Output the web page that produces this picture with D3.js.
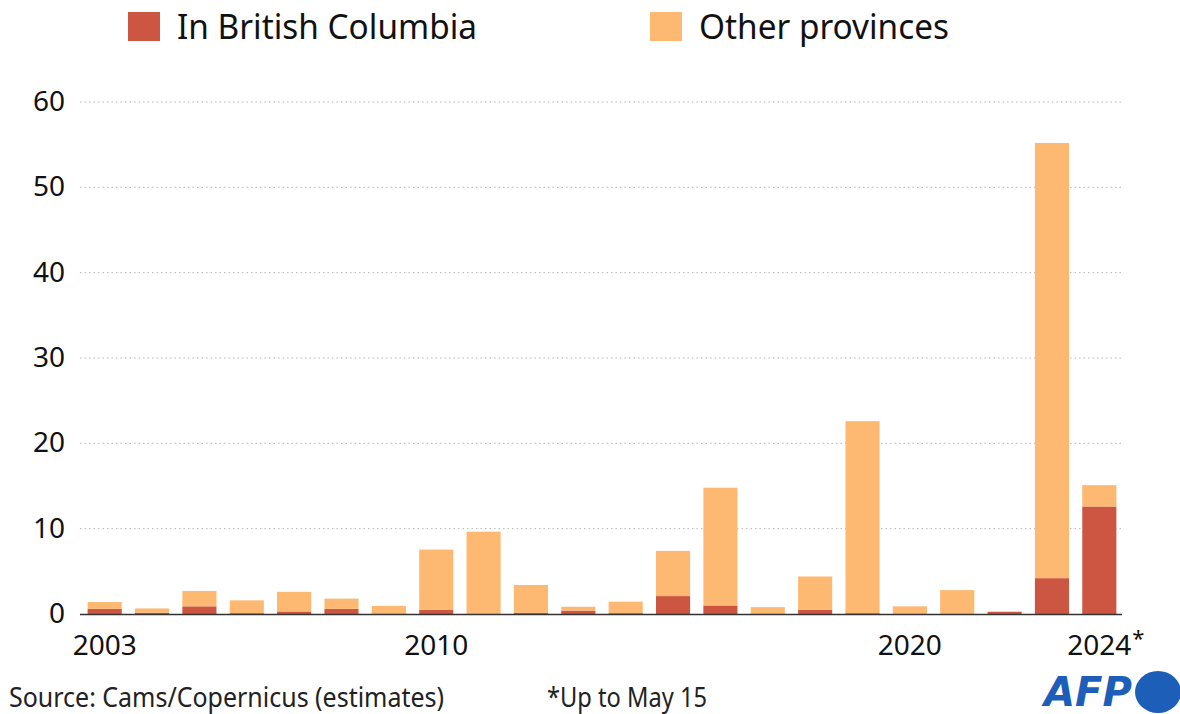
<!DOCTYPE html>
<html>
<head>
<meta charset="utf-8">
<script src="https://cdn.jsdelivr.net/npm/d3@7"></script>
<style>
  body { margin: 0; background: #fff; }
  svg { font-family: "Noto Sans", "Open Sans", sans-serif; }
</style>
</head>
<body>
<div id="chart"></div>
<script>
const years = d3.range(2003, 2025);
// emissions in British Columbia
const bcValues = [0.6, 0.15, 0.9, 0.1, 0.3, 0.6, 0.05, 0.5, 0, 0.15, 0.4, 0.1,
                  2.1, 1.0, 0.05, 0.5, 0.1, 0, 0, 0.25, 4.2, 12.6];
// other provinces
const otherValues = [0.8, 0.5, 1.8, 1.5, 2.3, 1.2, 0.9, 7.05, 9.65, 3.25, 0.45, 1.35,
                     5.3, 13.8, 0.75, 3.9, 22.5, 0.9, 2.8, 0.05, 51.0, 2.5];
const yTicks = [0, 10, 20, 30, 40, 50, 60];
const xLabelYears = [2003, 2010, 2020, 2024];

const W = 1180, H = 714;
const red = "#cc5641", orange = "#fdb971";

const svg = d3.select("#chart").append("svg")
    .attr("width", W).attr("height", H);

const x = d3.scaleBand()
    .domain(years)
    .range([81, 1123])
    .paddingInner(0.28)
    .paddingOuter(0.14);

const y = d3.scaleLinear()
    .domain([0, 60])
    .range([614, 102]);

// gridlines
svg.append("g")
    .selectAll("line")
    .data(yTicks.filter(d => d > 0))
    .join("line")
    .attr("x1", 80).attr("x2", 1122)
    .attr("y1", d => y(d)).attr("y2", d => y(d))
    .attr("stroke", "#b5b5b5")
    .attr("stroke-width", 1)
    .attr("stroke-dasharray", "1.5,3");

// y axis labels
svg.append("g")
    .selectAll("text")
    .data(yTicks)
    .join("text")
    .attr("x", 65)
    .attr("y", d => y(d) + 9)
    .attr("text-anchor", "end")
    .attr("font-size", 28)
    .attr("fill", "#111")
    .text(d => d);

const data = years.map((yr, i) => ({year: yr, bc: bcValues[i], other: otherValues[i]}));
const stack = d3.stack().keys(["bc", "other"])(data);
const colors = {bc: red, other: orange};

svg.append("g")
    .selectAll("g")
    .data(stack)
    .join("g")
    .attr("fill", d => colors[d.key])
    .selectAll("rect")
    .data(d => d)
    .join("rect")
    .attr("x", d => x(d.data.year))
    .attr("width", x.bandwidth())
    .attr("y", d => y(d[1]))
    .attr("height", d => y(d[0]) - y(d[1]));

// baseline
svg.append("line")
    .attr("x1", 80).attr("x2", 1122)
    .attr("y1", y(0) + 0.5).attr("y2", y(0) + 0.5)
    .attr("stroke", "#333")
    .attr("stroke-width", 1.5);

// x labels
const xl = svg.append("g");
xLabelYears.forEach(yr => {
    const t = xl.append("text")
        .attr("x", x(yr) + x.bandwidth() / 2)
        .attr("y", 655)
        .attr("text-anchor", "middle")
        .attr("font-size", 28)
        .attr("fill", "#111")
        .text(yr);
    if (yr === 2024) {
        const w = t.node().getComputedTextLength();
        xl.append("text")
            .attr("x", x(yr) + x.bandwidth() / 2 + w / 2 + 1)
            .attr("y", 646)
            .attr("font-size", 22)
            .attr("fill", "#111")
            .text("*");
    }
});

// legend
const legendItems = [
    {label: "In British Columbia", color: red, x: 128, w: 300},
    {label: "Other provinces", color: orange, x: 650, w: 250}
];
const lg = svg.append("g");
legendItems.forEach(d => {
    lg.append("rect")
        .attr("x", d.x).attr("y", 12)
        .attr("width", 32).attr("height", 29)
        .attr("fill", d.color);
    lg.append("text")
        .attr("x", d.x + 49).attr("y", 39)
        .attr("font-size", 34)
        .attr("fill", "#111")
        .attr("textLength", d.w)
        .attr("lengthAdjust", "spacingAndGlyphs")
        .text(d.label);
});

// footer
svg.append("text")
    .attr("x", 9).attr("y", 707)
    .attr("font-size", 27)
    .attr("fill", "#222")
    .attr("textLength", 435)
    .attr("lengthAdjust", "spacingAndGlyphs")
    .text("Source: Cams/Copernicus (estimates)");
svg.append("text")
    .attr("x", 547).attr("y", 707)
    .attr("font-size", 27)
    .attr("fill", "#222")
    .attr("textLength", 160)
    .attr("lengthAdjust", "spacingAndGlyphs")
    .text("*Up to May 15");

// AFP logo
svg.append("text")
    .attr("x", 1044).attr("y", 706)
    .attr("font-size", 40)
    .attr("font-weight", 900)
    .attr("font-style", "italic")
    .attr("fill", "#1d5eb8")
    .attr("textLength", 88)
    .attr("lengthAdjust", "spacingAndGlyphs")
    .attr("font-family", "DejaVu Sans, sans-serif")
    .text("AFP");
svg.append("ellipse")
    .attr("cx", 1158).attr("cy", 692)
    .attr("rx", 23).attr("ry", 21)
    .attr("fill", "#1d5eb8");
</script>
</body>
</html>
